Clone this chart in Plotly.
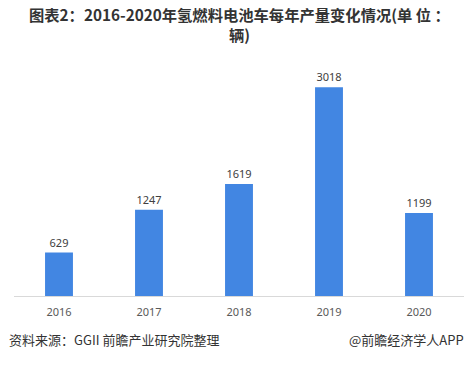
import plotly.graph_objects as go

years = ["2016", "2017", "2018", "2019", "2020"]
production = [629, 1247, 1619, 3018, 1199]

title_text = "图表2：2016-2020年氢燃料电池车每年产量变化情况(单 位 ：<br>辆)"
source_text = "资料来源：GGII 前瞻产业研究院整理"
brand_text = "@前瞻经济学人APP"

bar_color = "#4286E2"

fig = go.Figure()
fig.add_trace(go.Bar(
    x=years, y=production,
    marker=dict(color=bar_color, line=dict(width=0)),
    width=0.31,
    text=[str(v) for v in production],
    textposition="outside",
    textfont=dict(size=11, color="#404040", family="Noto Sans, sans-serif"),
    cliponaxis=False,
))

fig.update_layout(
    width=474, height=365,
    margin=dict(l=14, r=10, t=54, b=69),
    paper_bgcolor="white", plot_bgcolor="white",
    showlegend=False,
    bargap=0.69,
    xaxis=dict(
        showline=True, linecolor="#D9D9D9", linewidth=1,
        ticks="", ticklabelstandoff=6,
        tickfont=dict(size=11, color="#595959", family="Noto Sans, sans-serif"),
        showgrid=False,
    ),
    yaxis=dict(
        range=[0, 3500], visible=False, showgrid=False, zeroline=False,
    ),
    annotations=[
        dict(text="<b>" + title_text + "</b>", x=0.5, y=1, xref="paper", yref="paper",
             xanchor="center", yanchor="top", yshift=54 - 1, showarrow=False,
             font=dict(size=15.3, color="#333333", family="Noto Sans CJK SC, sans-serif"),
             align="center"),
        dict(text=source_text, x=0, xref="paper", y=0, yref="paper", xshift=-7, yshift=-55,
             xanchor="left", yanchor="bottom", showarrow=False,
             font=dict(size=13, color="#333333", family="Noto Sans CJK SC, sans-serif")),
        dict(text=brand_text, x=1, xref="paper", y=0, yref="paper", xshift=2, yshift=-55,
             xanchor="right", yanchor="bottom", showarrow=False,
             font=dict(size=13, color="#333333", family="Noto Sans CJK SC, sans-serif")),
    ],
)

fig.write_html("out.html", config={"displayModeBar": False},
               post_script="document.body.style.margin='0';")
